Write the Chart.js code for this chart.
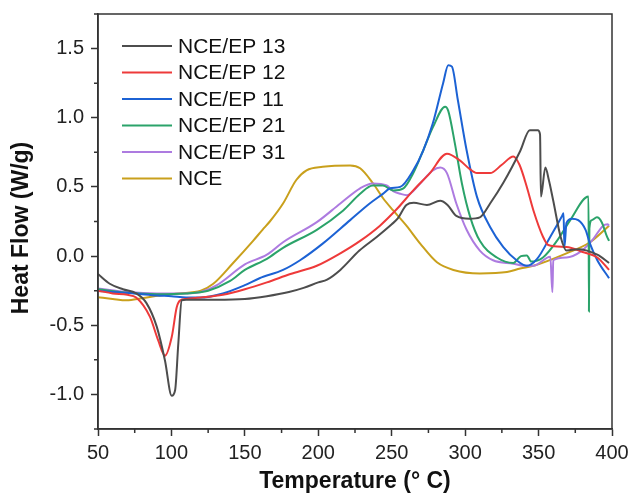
<!DOCTYPE html>
<html>
<head>
<meta charset="utf-8">
<script src="https://cdn.jsdelivr.net/npm/chart.js@4.4.1/dist/chart.umd.min.js"></script>
<style>
  html, body { margin: 0; padding: 0; background: #fff; }
  #wrap { width: 633px; height: 493px; }
</style>
</head>
<body>
<div id="wrap"><canvas id="dsc"></canvas></div>
<script>
// series names + colours
const seriesNames = ['NCE/EP 13', 'NCE/EP 12', 'NCE/EP 11', 'NCE/EP 21', 'NCE/EP 31', 'NCE'];
const seriesColors = ['#4d4d4d', '#ee3a3a', '#1c62d4', '#2ba36a', '#ad7be0', '#c9a01c'];

// temperature (°C) / heat flow (W/g)
const ep13T = [50, 58, 67, 76, 83, 90, 95.6, 100.2, 102.5, 104.7, 107, 110, 130, 150, 165, 180, 190, 200, 206, 215, 228, 240, 250, 254, 260, 265, 274, 283, 288, 294, 303, 310, 317, 326, 337.5, 344, 349.5, 351, 351.6, 354.6, 357, 360, 365, 369, 377, 390, 398];
const ep13Y = [-0.13, -0.2, -0.24, -0.27, -0.34, -0.51, -0.755, -1.01, -0.97, -0.63, -0.32, -0.315, -0.315, -0.31, -0.29, -0.26, -0.23, -0.19, -0.17, -0.1, 0.04, 0.14, 0.23, 0.27, 0.37, 0.385, 0.37, 0.4, 0.37, 0.29, 0.27, 0.28, 0.38, 0.53, 0.76, 0.91, 0.91, 0.88, 0.43, 0.64, 0.55, 0.4, 0.14, 0.04, 0.05, 0.01, -0.05];

const ep12T = [50, 60, 70, 76, 85.4, 91, 95.6, 100.2, 103.6, 106, 110, 120, 135, 150, 165, 181, 199, 215, 228.5, 242, 253.5, 264.7, 276, 287.6, 296.6, 303, 308, 317, 325, 332.8, 337, 342, 346.5, 353, 356.6, 369, 380, 390, 398];
const ep12Y = [-0.25, -0.27, -0.28, -0.3, -0.44, -0.61, -0.72, -0.585, -0.37, -0.32, -0.31, -0.3, -0.28, -0.24, -0.19, -0.13, -0.07, 0.02, 0.11, 0.22, 0.34, 0.475, 0.6, 0.74, 0.69, 0.63, 0.6, 0.6, 0.66, 0.72, 0.66, 0.5, 0.33, 0.14, 0.08, 0.065, 0.03, -0.01, -0.1];

const ep11T = [50, 60, 75, 90, 100, 110, 119.5, 135, 150, 160, 176, 187.6, 203, 221.7, 235, 244, 249, 255.8, 264.7, 271.5, 278, 285, 288.5, 291, 295, 301, 308, 317, 326, 335, 342, 349, 358, 366, 367, 367.6, 369, 372.7, 377, 382, 385, 390, 398];
const ep11Y = [-0.25, -0.26, -0.27, -0.285, -0.29, -0.3, -0.3, -0.27, -0.21, -0.16, -0.1, -0.03, 0.09, 0.26, 0.38, 0.45, 0.49, 0.5, 0.62, 0.765, 0.96, 1.25, 1.38, 1.37, 1.13, 0.765, 0.43, 0.21, 0.065, -0.03, -0.07, -0.02, 0.14, 0.29, 0.31, 0.065, 0.24, 0.27, 0.26, 0.19, 0.09, -0.03, -0.16];

const ep21T = [50, 70, 90, 110, 125, 140, 150, 165, 176, 199, 217, 228.5, 237, 244, 251, 258, 264.7, 271.5, 278, 286.4, 288.5, 293, 297.8, 303.5, 310, 321.6, 332.8, 338, 342, 345, 353, 362.5, 371.6, 384, 384.3, 384.6, 386.3, 389.7, 393, 396.6, 398];
const ep21Y = [-0.24, -0.265, -0.275, -0.27, -0.25, -0.18, -0.1, -0.02, 0.06, 0.19, 0.33, 0.45, 0.51, 0.51, 0.475, 0.49, 0.6, 0.765, 0.93, 1.08, 1.05, 0.815, 0.525, 0.28, 0.11, -0.01, -0.05, 0, 0.005, -0.04, -0.01, 0.11, 0.26, 0.43, -0.4, 0.2, 0.26, 0.28, 0.245, 0.14, 0.11];

const ep31T = [50, 70, 90, 110, 120, 131, 150, 165, 176, 199, 215, 228.5, 237, 246.6, 251, 256, 260.3, 269.4, 278, 283, 287.6, 294, 301, 310, 319, 332.8, 340, 346.5, 358, 359.4, 360, 369, 378.4, 387.3, 394, 397, 398];
const ep31Y = [-0.235, -0.26, -0.27, -0.27, -0.26, -0.21, -0.06, 0.01, 0.1, 0.245, 0.38, 0.49, 0.525, 0.51, 0.47, 0.45, 0.44, 0.525, 0.62, 0.64, 0.6, 0.38, 0.19, 0.04, -0.03, -0.055, -0.07, -0.07, -0.005, -0.26, -0.03, -0.01, 0.03, 0.125, 0.22, 0.23, 0.22];

const nceT = [50, 60, 69.5, 80, 92, 105, 120, 128.5, 142, 155.6, 162, 167, 176, 185, 192, 203, 221.7, 228.5, 237, 244, 251, 260, 269.4, 280.8, 292, 310, 328.5, 337.5, 346.5, 369, 385, 398];
const nceY = [-0.297, -0.31, -0.32, -0.305, -0.285, -0.27, -0.25, -0.2, -0.05, 0.11, 0.19, 0.25, 0.38, 0.55, 0.62, 0.645, 0.655, 0.635, 0.53, 0.42, 0.33, 0.22, 0.09, -0.045, -0.1, -0.125, -0.115, -0.09, -0.07, 0.02, 0.1, 0.22];

const xTicks = [50, 100, 150, 200, 250, 300, 350, 400];
const yTicks = [-1.0, -0.5, 0.0, 0.5, 1.0, 1.5];

const seriesT = [ep13T, ep12T, ep11T, ep21T, ep31T, nceT];
const seriesY = [ep13Y, ep12Y, ep11Y, ep21Y, ep31Y, nceY];

const datasets = seriesNames.map((name, i) => ({
  label: name,
  data: seriesT[i].map((t, j) => ({ x: t, y: seriesY[i][j] })),
  borderColor: seriesColors[i],
  backgroundColor: seriesColors[i],
  borderWidth: 2,
  pointRadius: 0,
  cubicInterpolationMode: 'monotone',
  fill: false
}));

// frame, minor ticks, y title and an in-plot legend
const extras = {
  id: 'extras',
  afterDraw(chart) {
    const { ctx, chartArea: a, scales: { x, y } } = chart;
    ctx.save();
    ctx.strokeStyle = '#333';
    ctx.lineWidth = 1.5;
    ctx.strokeRect(a.left, a.top, a.right - a.left, a.bottom - a.top);
    ctx.beginPath();
    for (let v = 75; v < 400; v += 50) {
      const px = x.getPixelForValue(v);
      ctx.moveTo(px, a.bottom); ctx.lineTo(px, a.bottom + 4);
    }
    for (let v = -1.25; v <= 1.75; v += 0.5) {
      const py = y.getPixelForValue(v);
      ctx.moveTo(a.left, py); ctx.lineTo(a.left - 4, py);
    }
    ctx.stroke();

    // y title (drawn by hand to sit a bit below centre like the original)
    ctx.save();
    ctx.translate(22, 228);
    ctx.rotate(-Math.PI / 2);
    ctx.font = 'bold 23px "Liberation Sans", Arial, sans-serif';
    ctx.textAlign = 'center';
    ctx.textBaseline = 'middle';
    ctx.fillStyle = '#111';
    ctx.fillText('Heat Flow (W/g)', 0, 0);
    ctx.restore();

    ctx.font = '21px "Liberation Sans", Arial, sans-serif';
    ctx.textBaseline = 'middle';
    ctx.fillStyle = '#111';
    chart.data.datasets.forEach((ds, i) => {
      const ly = a.top + 32 + i * 26.5;
      ctx.strokeStyle = ds.borderColor;
      ctx.lineWidth = 2;
      ctx.beginPath();
      ctx.moveTo(a.left + 24, ly); ctx.lineTo(a.left + 74, ly);
      ctx.stroke();
      ctx.fillText(ds.label, a.left + 80, ly + 1);
    });
    ctx.restore();
  }
};

const tickFont = { family: '"Liberation Sans", Arial, sans-serif', size: 20 };
const titleFont = { family: '"Liberation Sans", Arial, sans-serif', size: 23, weight: 'bold', lineHeight: 1.0 };

new Chart(document.getElementById('dsc'), {
  type: 'line',
  data: { datasets },
  plugins: [extras],
  options: {
    responsive: true,
    maintainAspectRatio: false,
    animation: false,
    layout: { padding: { top: 14, right: 21, left: 0, bottom: 0 } },
    plugins: { legend: { display: false }, tooltip: { enabled: false } },
    scales: {
      x: {
        type: 'linear',
        min: 50, max: 400,
        afterFit: s => { s.height = 64; s.paddingLeft = 0; s.paddingRight = 0; },
        afterBuildTicks: s => { s.ticks = xTicks.map(v => ({ value: v })); },
        grid: { drawOnChartArea: false, color: '#333', tickLength: 7, tickWidth: 1.5 },
        border: { color: '#333', width: 1.5 },
        ticks: { color: '#222', font: tickFont, padding: 5, maxRotation: 0 },
        title: { display: true, text: 'Temperature (° C)', color: '#111', font: titleFont, padding: 0 }
      },
      y: {
        min: -1.25, max: 1.75,
        afterFit: s => { s.width = 98; s.paddingTop = 0; s.paddingBottom = 0; },
        afterBuildTicks: s => { s.ticks = yTicks.map(v => ({ value: v })); },
        grid: { drawOnChartArea: false, color: '#333', tickLength: 7, tickWidth: 1.5 },
        border: { color: '#333', width: 1.5 },
        ticks: { color: '#222', font: tickFont, padding: 7, callback: v => Number(v).toFixed(1) },
        title: { display: false }
      }
    }
  }
});
</script>
</body>
</html>
